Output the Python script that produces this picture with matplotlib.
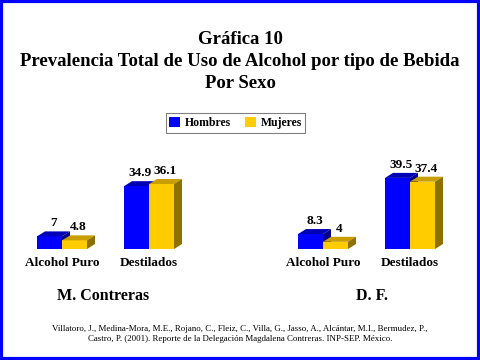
import matplotlib.pyplot as plt
from matplotlib.patches import Polygon, Rectangle, Patch

# data
categorias = ['Alcohol Puro', 'Destilados']
mc_hombres = [7, 34.9]
mc_mujeres = [4.8, 36.1]
df_hombres = [8.3, 39.5]
df_mujeres = [4, 37.4]
etiquetas_mc = ['7', '34.9']
etiquetas_mc_m = ['4.8', '36.1']
etiquetas_df = ['8.3', '39.5']
etiquetas_df_m = ['4', '37.4']

AZUL = ('#0000ff', '#0000b4', '#00008c')
AMARILLO = ('#ffcc00', '#c89e00', '#8c7000')
SERIF = ['Liberation Serif', 'DejaVu Serif']

W = 480.0
H = 360.0
fig = plt.figure(figsize=(4.8, 3.6), dpi=100)

# 1 x-unit = 25 px, 1 y-unit = 1.8 px
PX_X = 25.0
PX_Y = 1.8
DX = 8 / PX_X
DY = 5 / PX_Y
centros = [1.68, 5.16]


def bar3d(ax, x, w, h, colores):
    front, top, side = colores
    ax.bar(x, h, w, align='edge', color=front, linewidth=0)
    ax.add_patch(Polygon([(x, h), (x + w, h), (x + w + DX, h + DY), (x + DX, h + DY)],
                         closed=True, color=top, linewidth=0))
    ax.add_patch(Polygon([(x + w, 0), (x + w + DX, DY), (x + w + DX, h + DY), (x + w, h)],
                         closed=True, color=side, linewidth=0))


def panel(left_px, hombres, mujeres, lab_h, lab_m):
    base = 249
    ax = fig.add_axes([left_px / W, (H - base) / H, 180 / W, 100 / H])
    ax.set_xlim(0, 180 / PX_X)
    ax.set_ylim(0, 100 / PX_Y)
    ax.axis('off')
    for i, c in enumerate(centros):
        bar3d(ax, c - 1, 1, hombres[i], AZUL)
        bar3d(ax, c, 1, mujeres[i], AMARILLO)
        ax.text(c - 0.5 + DX / 2, hombres[i] + DY + 1.2, lab_h[i], ha='center', va='bottom',
                fontsize=9.5, fontweight='bold', family=SERIF, clip_on=False)
        ax.text(c + 0.5 + DX / 2, mujeres[i] + DY + 1.2, lab_m[i], ha='center', va='bottom',
                fontsize=9.5, fontweight='bold', family=SERIF, clip_on=False)
        ax.text(c, -8, categorias[i], ha='center', va='center', fontsize=9.5,
                fontweight='bold', family=SERIF, clip_on=False)
    return ax


panel(20, mc_hombres, mc_mujeres, etiquetas_mc, etiquetas_mc_m)
panel(281, df_hombres, df_mujeres, etiquetas_df, etiquetas_df_m)

# titles
for y, t in [(40, 'Gráfica 10'),
             (62, 'Prevalencia Total de Uso de Alcohol por tipo de Bebida'),
             (84, 'Por Sexo')]:
    fig.text(0.5, 1 - y / H, t, ha='center', va='center', fontsize=13.5,
             fontweight='bold', family=SERIF)

fig.text(103 / W, 1 - 296 / H, 'M. Contreras', ha='center', va='center', fontsize=11.5,
         fontweight='bold', family=SERIF)
fig.text(372 / W, 1 - 296 / H, 'D. F.', ha='center', va='center', fontsize=11.5,
         fontweight='bold', family=SERIF)

fig.text(0.5, 1 - 334 / H,
         'Villatoro, J., Medina-Mora, M.E., Rojano, C., Fleiz, C., Villa, G., Jasso, A., Alcántar, M.I., Bermudez, P.,\n'
         'Castro, P. (2001). Reporte de la Delegación Magdalena Contreras. INP-SEP. México.',
         ha='center', va='center', fontsize=6.4, family=SERIF, linespacing=1.35)

# legend
handles = [Patch(facecolor=AZUL[0], label='Hombres'), Patch(facecolor=AMARILLO[0], label='Mujeres')]
leg = fig.legend(handles=handles, loc='center', bbox_to_anchor=(235.5 / W, 1 - 123 / H), ncol=2,
                 prop={'family': SERIF, 'weight': 'bold', 'size': 8.5}, fancybox=False,
                 edgecolor='#808080', handlelength=0.9, handleheight=0.9, handletextpad=0.4,
                 columnspacing=1.2, borderpad=0.3, framealpha=1)
leg.get_frame().set_linewidth(0.8)

# border
fig.patches.append(Rectangle((0.003, 0.004), 0.994, 0.992, transform=fig.transFigure,
                             fill=False, edgecolor='#0000ff', linewidth=3))

fig.savefig('out.png', dpi=100)
